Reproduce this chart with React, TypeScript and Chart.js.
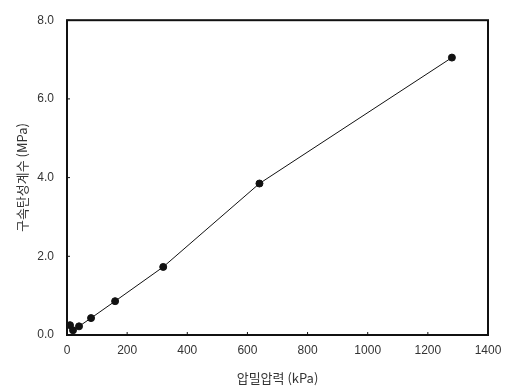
import React, { useEffect, useRef } from "react";
import { Chart, registerables } from "chart.js";

Chart.register(...registerables);

const pressure = [10, 20, 40, 80, 160, 320, 640, 1280];
const modulus = [0.25, 0.12, 0.22, 0.43, 0.86, 1.73, 3.85, 7.05];
const xTitle = "압밀압력 (kPa)";
const yTitle = "구속탄성계수 (MPa)";

const FONT = "'Liberation Sans', Arial, 'Noto Sans CJK KR', sans-serif";
const KFONT = "'Noto Sans CJK KR', 'Liberation Sans', sans-serif";

const frame = {
  id: "frame",
  afterDraw(chart: any) {
    const { ctx, chartArea: a, scales } = chart;
    ctx.save();
    ctx.strokeStyle = "#111";
    ctx.lineWidth = 1;
    ctx.beginPath();
    scales.x.ticks.forEach((t: any) => {
      const px = scales.x.getPixelForValue(t.value);
      ctx.moveTo(px, a.bottom);
      ctx.lineTo(px, a.bottom - 3);
    });
    scales.y.ticks.forEach((t: any) => {
      const py = scales.y.getPixelForValue(t.value);
      ctx.moveTo(a.left, py);
      ctx.lineTo(a.left + 3, py);
    });
    ctx.stroke();
    ctx.lineWidth = 2;
    ctx.strokeRect(a.left, a.top, a.right - a.left, a.bottom - a.top);
    ctx.restore();
  },
};

export default function App() {
  const ref = useRef<HTMLCanvasElement>(null);
  useEffect(() => {
    const chart = new Chart(ref.current as HTMLCanvasElement, {
      type: "line",
      data: {
        datasets: [
          {
            data: pressure.map((x, i) => ({ x, y: modulus[i] })),
            borderColor: "#111",
            borderWidth: 1,
            backgroundColor: "#111",
            pointRadius: 3.5,
            pointBackgroundColor: "#111",
            pointBorderColor: "#111",
            tension: 0,
          },
        ],
      },
      options: {
        animation: false,
        responsive: false,
        layout: { padding: { left: 0, top: 9, right: 23, bottom: 0 } },
        plugins: { legend: { display: false }, tooltip: { enabled: false } },
        scales: {
          x: {
            type: "linear",
            min: 0,
            max: 1400,
            ticks: {
              stepSize: 200,
              color: "#333",
              font: { family: FONT, size: 12 },
              padding: 8,
              callback: (v: any) => String(v),
            },
            grid: { display: false, drawTicks: false },
            border: { display: false },
            title: { display: true, text: xTitle, color: "#333", font: { family: KFONT, size: 13 }, padding: { top: 0, bottom: 6 } },
            afterFit: (s: any) => { s.height = 57; },
          },
          y: {
            type: "linear",
            min: 0,
            max: 8,
            ticks: {
              stepSize: 2,
              color: "#333",
              font: { family: FONT, size: 12 },
              padding: 13,
              callback: (v: any) => Number(v).toFixed(1),
            },
            grid: { display: false, drawTicks: false },
            border: { display: false },
            title: { display: true, text: yTitle, color: "#333", font: { family: KFONT, size: 13 }, padding: { top: 14, bottom: 0 } },
            afterFit: (s: any) => { s.width = 67; },
          },
        },
      },
      plugins: [frame],
    });
    return () => chart.destroy();
  }, []);
  return (
    <div style={{ position: "fixed", left: 0, top: 0, width: 511, height: 392, background: "#fff" }}>
      <canvas ref={ref} width={511} height={392} style={{ display: "block" }} />
    </div>
  );
}
